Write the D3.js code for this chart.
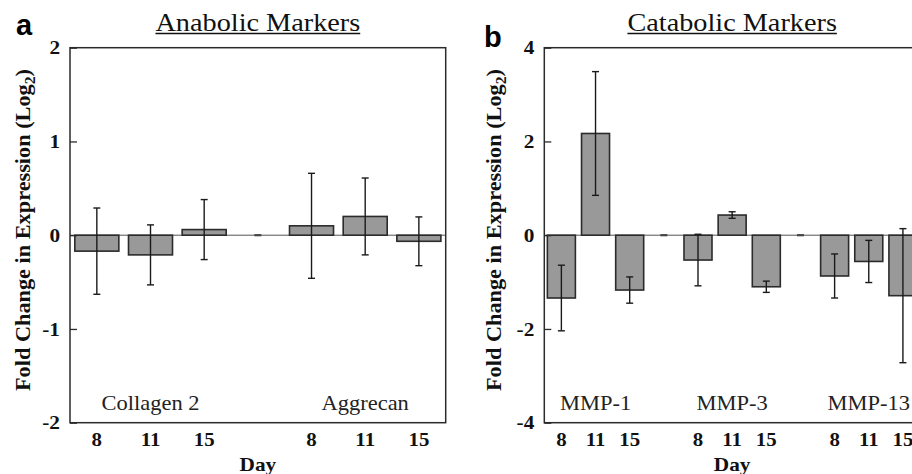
<!DOCTYPE html>
<html>
<head>
<meta charset="utf-8">
<script src="https://cdn.jsdelivr.net/npm/d3@7"></script>
<style>
  body { margin: 0; background: #fff; }
  svg { display: block; }
</style>
</head>
<body>
<div id="chart"></div>
<script>
// data (log2 fold change, mean and error)
var days = ["8", "11", "15"];

var anabolicGenes = ["Collagen 2", "Aggrecan"];
var collagenMean = [-0.17, -0.21, 0.06];
var collagenErr = [0.46, 0.32, 0.32];
var aggrecanMean = [0.10, 0.20, -0.065];
var aggrecanErr = [0.56, 0.41, 0.26];

var catabolicGenes = ["MMP-1", "MMP-3", "MMP-13"];
var mmp1Mean = [-1.34, 2.17, -1.17];
var mmp1Err = [0.70, 1.32, 0.28];
var mmp3Mean = [-0.53, 0.43, -1.10];
var mmp3Err = [0.55, 0.07, 0.12];
var mmp13Mean = [-0.87, -0.56, -1.29];
var mmp13Err = [0.47, 0.45, 1.43];

var anabolicTicks = [-2, -1, 0, 1, 2];
var catabolicTicks = [-4, -2, 0, 2, 4];

var width = 912, height = 474;
var serif = "'Liberation Serif', 'Times New Roman', serif";

var svg = d3.select("#chart").append("svg")
    .attr("width", width)
    .attr("height", height);

// the source font (Palatino-like) runs wider than Times, stretch to fit
function stretch(sel, factor) {
	sel.each(function() {
		var len = this.getComputedTextLength();
		d3.select(this)
			.attr("textLength", len * factor)
			.attr("lengthAdjust", "spacingAndGlyphs");
	});
}

// turns gene list + arrays into bar slots, with a spacer between genes
function buildSlots(genes, means, errs) {
	var slots = [];
	genes.forEach(function(g, gi) {
		if (gi > 0) slots.push({ key: "gap" + gi, spacer: true, value: 0 });
		days.forEach(function(d, di) {
			slots.push({ key: g + "-" + d, gene: g, day: d, value: means[gi][di], err: errs[gi][di], mid: di === 1 });
		});
	});
	return slots;
}

function panel(opts) {
	var slots = buildSlots(opts.genes, opts.means, opts.errs);
	var left = opts.left, right = opts.right, top = 47.7, bottom = 422.7;
	var cx = (left + right) / 2;

	var x = d3.scaleBand()
		.domain(slots.map(function(d) { return d.key; }))
		.range([left, right])
		.paddingInner(0.18)
		.paddingOuter(0.09);

	var y = d3.scaleLinear()
		.domain(opts.domain)
		.range([bottom, top]);

	var g = svg.append("g");

	// zero line
	g.append("line")
		.attr("x1", left).attr("x2", right)
		.attr("y1", y(0)).attr("y2", y(0))
		.attr("stroke", "#555")
		.attr("stroke-width", 1);

	// spacer dashes on the zero line
	g.selectAll(".spacer")
		.data(slots.filter(function(d) { return d.spacer; }))
		.enter().append("line")
		.attr("x1", function(d) { return x(d.key) + x.bandwidth() / 2 - 3.5; })
		.attr("x2", function(d) { return x(d.key) + x.bandwidth() / 2 + 3.5; })
		.attr("y1", y(0)).attr("y2", y(0))
		.attr("stroke", "#444")
		.attr("stroke-width", 2.2);

	var bars = slots.filter(function(d) { return !d.spacer; });

	g.selectAll(".bar")
		.data(bars)
		.enter().append("rect")
		.attr("x", function(d) { return x(d.key); })
		.attr("width", x.bandwidth())
		.attr("y", function(d) { return y(Math.max(0, d.value)); })
		.attr("height", function(d) { return Math.abs(y(d.value) - y(0)); })
		.attr("fill", "#999")
		.attr("stroke", "#2b2b2b")
		.attr("stroke-width", 1.6);

	// error bars
	var eb = g.selectAll(".err")
		.data(bars)
		.enter().append("g")
		.attr("stroke", "#1a1a1a")
		.attr("stroke-width", 1.4);
	eb.append("line")
		.attr("x1", function(d) { return x(d.key) + x.bandwidth() / 2; })
		.attr("x2", function(d) { return x(d.key) + x.bandwidth() / 2; })
		.attr("y1", function(d) { return y(d.value + d.err); })
		.attr("y2", function(d) { return y(d.value - d.err); });
	[1, -1].forEach(function(s) {
		eb.append("line")
			.attr("x1", function(d) { return x(d.key) + x.bandwidth() / 2 - 3.5; })
			.attr("x2", function(d) { return x(d.key) + x.bandwidth() / 2 + 3.5; })
			.attr("y1", function(d) { return y(d.value + s * d.err); })
			.attr("y2", function(d) { return y(d.value + s * d.err); });
	});

	// frame
	g.append("rect")
		.attr("x", left).attr("y", top)
		.attr("width", right - left).attr("height", bottom - top)
		.attr("fill", "none")
		.attr("stroke", "#2b2b2b")
		.attr("stroke-width", 1.5);

	// y axis with ticks pointing inward, plain hyphen for negatives
	var yAxis = g.append("g")
		.attr("transform", "translate(" + left + ",0)")
		.call(d3.axisLeft(y).tickValues(opts.ticks).tickSizeInner(-7).tickSizeOuter(0).tickPadding(10)
			.tickFormat(function(d) { return String(d); }));
	yAxis.select(".domain").remove();
	yAxis.selectAll("line").attr("stroke", "#2b2b2b").attr("stroke-width", 1.3);
	yAxis.selectAll("text")
		.style("font-family", serif)
		.style("font-weight", "bold")
		.style("font-size", "19px")
		.attr("fill", "#111");
	stretch(yAxis.selectAll("text"), 1.12);

	// x axis: day labels
	var xAxis = g.append("g")
		.attr("transform", "translate(0," + bottom + ")")
		.call(d3.axisBottom(x).tickSize(0).tickPadding(10).tickFormat(function(k) {
			var s = slots.find(function(d) { return d.key === k; });
			return s.spacer ? "" : s.day;
		}));
	xAxis.select(".domain").remove();
	xAxis.selectAll("text")
		.style("font-family", serif)
		.style("font-weight", "bold")
		.style("font-size", "19px")
		.attr("fill", "#111");
	stretch(xAxis.selectAll("text").filter(function() { return this.textContent !== ""; }), 1.1);

	// gene names inside the plot
	var genes = g.selectAll(".gene")
		.data(bars.filter(function(d) { return d.mid; }))
		.enter().append("text")
		.attr("x", function(d) { return x(d.key) + x.bandwidth() / 2; })
		.attr("y", 410)
		.style("font-family", serif)
		.style("font-size", "21px")
		.style("text-anchor", "middle")
		.attr("fill", "#222")
		.text(function(d) { return d.gene; });
	stretch(genes, 1.07);

	// Day label
	var day = g.append("text")
		.attr("x", cx)
		.attr("y", 471)
		.style("font-family", serif)
		.style("font-weight", "bold")
		.style("font-size", "19px")
		.style("text-anchor", "middle")
		.attr("fill", "#111")
		.text("Day");
	stretch(day, 1.12);

	// title, underlined
	var title = g.append("text")
		.attr("x", cx)
		.attr("y", 31)
		.style("font-family", serif)
		.style("font-size", "25px")
		.style("text-anchor", "middle")
		.attr("fill", "#111")
		.text(opts.title);
	stretch(title, 1.13);
	var tl = +title.attr("textLength");
	g.append("line")
		.attr("x1", cx - tl / 2)
		.attr("x2", cx + tl / 2)
		.attr("y1", 33.5).attr("y2", 33.5)
		.attr("stroke", "#111")
		.attr("stroke-width", 1.3);

	// y title
	var yt = g.append("text")
		.attr("transform", "translate(" + opts.yTitleX + ",230) rotate(-90)")
		.style("font-family", serif)
		.style("font-weight", "bold")
		.style("font-size", "20px")
		.style("text-anchor", "middle")
		.attr("textLength", 322)
		.attr("lengthAdjust", "spacingAndGlyphs")
		.attr("fill", "#111");
	yt.append("tspan").text("Fold Change in Expression (Log");
	yt.append("tspan").attr("dy", 5).style("font-size", "14px").text("2");
	yt.append("tspan").attr("dy", -5).text(")");

	// panel letter
	g.append("text")
		.attr("x", opts.letterX)
		.attr("y", opts.letterY)
		.style("font-family", "'Liberation Sans', Arial, sans-serif")
		.style("font-weight", "bold")
		.style("font-size", "29px")
		.attr("fill", "#000")
		.text(opts.letter);
}

panel({
	genes: anabolicGenes,
	means: [collagenMean, aggrecanMean],
	errs: [collagenErr, aggrecanErr],
	domain: [-2, 2],
	ticks: anabolicTicks,
	left: 70, right: 445.7,
	title: "Anabolic Markers",
	yTitleX: 30,
	letter: "a", letterX: 16, letterY: 35
});

panel({
	genes: catabolicGenes,
	means: [mmp1Mean, mmp3Mean, mmp13Mean],
	errs: [mmp1Err, mmp3Err, mmp13Err],
	domain: [-4, 4],
	ticks: catabolicTicks,
	left: 544.3, right: 920,
	title: "Catabolic Markers",
	yTitleX: 501,
	letter: "b", letterX: 484, letterY: 47
});
</script>
</body>
</html>
